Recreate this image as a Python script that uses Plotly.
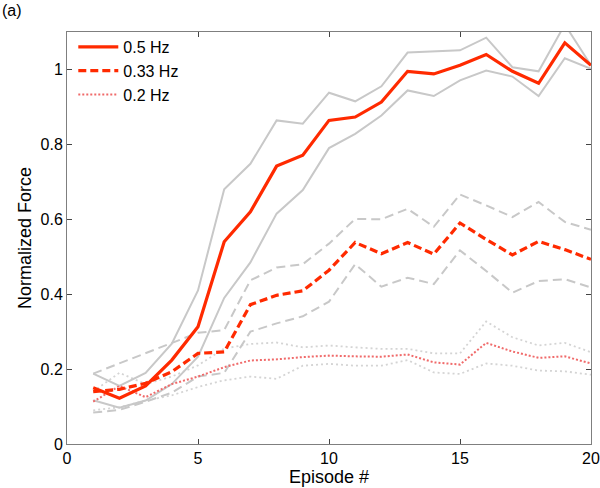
import plotly.graph_objects as go

episodes = list(range(1, 21))

# 0.5 Hz
hz05_mean = [0.150, 0.122, 0.155, 0.224, 0.313, 0.540, 0.620, 0.742, 0.771, 0.864,
             0.873, 0.913, 0.995, 0.988, 1.011, 1.040, 0.995, 0.963, 1.071, 1.011]
hz05_upper = [0.188, 0.155, 0.190, 0.268, 0.410, 0.680, 0.748, 0.864, 0.855, 0.938,
              0.915, 0.955, 1.045, 1.049, 1.051, 1.085, 1.006, 0.995, 1.120, 1.011]
hz05_lower = [0.117, 0.097, 0.116, 0.160, 0.233, 0.390, 0.485, 0.615, 0.678, 0.790,
              0.828, 0.877, 0.944, 0.929, 0.971, 0.997, 0.981, 0.929, 1.030, 1.002]

# 0.33 Hz
hz033_mean = [0.140, 0.146, 0.162, 0.193, 0.242, 0.246, 0.372, 0.397, 0.409, 0.464,
              0.538, 0.508, 0.538, 0.507, 0.590, 0.546, 0.505, 0.541, 0.519, 0.493]
hz033_upper = [0.188, 0.215, 0.243, 0.268, 0.297, 0.304, 0.437, 0.471, 0.480, 0.535,
               0.601, 0.600, 0.628, 0.580, 0.666, 0.637, 0.606, 0.646, 0.593, 0.572]
hz033_lower = [0.084, 0.091, 0.113, 0.137, 0.180, 0.190, 0.300, 0.322, 0.341, 0.380,
               0.480, 0.420, 0.444, 0.427, 0.517, 0.462, 0.404, 0.435, 0.440, 0.418]

# 0.2 Hz
hz02_mean = [0.113, 0.155, 0.125, 0.160, 0.180, 0.205, 0.223, 0.226, 0.232, 0.236,
             0.234, 0.233, 0.239, 0.218, 0.212, 0.270, 0.247, 0.230, 0.234, 0.215]
hz02_upper = [0.140, 0.190, 0.160, 0.180, 0.210, 0.255, 0.267, 0.271, 0.258, 0.263,
              0.258, 0.254, 0.254, 0.242, 0.242, 0.327, 0.285, 0.263, 0.270, 0.245]
hz02_lower = [0.090, 0.098, 0.116, 0.130, 0.152, 0.170, 0.180, 0.174, 0.209, 0.214,
              0.209, 0.209, 0.224, 0.191, 0.187, 0.215, 0.209, 0.196, 0.194, 0.185]

x_ticks = [0, 5, 10, 15, 20]
y_ticks = [0, 0.2, 0.4, 0.6, 0.8, 1]
y_tick_labels = ["0", "0.2", "0.4", "0.6", "0.8", "1"]

RED = "#ff2a00"
LIGHT_RED = "#f06a6a"
GRAY = "#c8c8c8"
GRAY_DOT = "#d4d4d4"

fig = go.Figure()

# gray bounds
for ys, dash, col, w in [(hz02_upper, "2px,3px", GRAY_DOT, 1.8), (hz02_lower, "2px,3px", GRAY_DOT, 1.8),
                         (hz033_upper, "9px,5px", GRAY, 2), (hz033_lower, "9px,5px", GRAY, 2),
                         (hz05_upper, "solid", GRAY, 2), (hz05_lower, "solid", GRAY, 2)]:
    fig.add_trace(go.Scatter(x=episodes, y=ys, mode="lines", showlegend=False,
                             line=dict(color=col, width=w, dash=dash),
                             hoverinfo="skip"))

fig.add_trace(go.Scatter(x=episodes, y=hz02_mean, mode="lines", name="0.2 Hz",
                         line=dict(color=LIGHT_RED, width=2, dash="2px,2px")))
fig.add_trace(go.Scatter(x=episodes, y=hz033_mean, mode="lines", name="0.33 Hz",
                         line=dict(color=RED, width=3.2, dash="8px,4px")))
fig.add_trace(go.Scatter(x=episodes, y=hz05_mean, mode="lines", name="0.5 Hz",
                         line=dict(color=RED, width=3.2)))

font_family = "Liberation Sans, Arial, sans-serif"

fig.update_layout(
    width=600, height=488,
    margin=dict(l=67, r=9, t=32, b=44),
    paper_bgcolor="white", plot_bgcolor="white",
    font=dict(family=font_family, size=16, color="black"),
    legend=dict(x=0.012, y=1.005, xanchor="left", yanchor="top",
                bgcolor="rgba(0,0,0,0)", traceorder="reversed",
                font=dict(size=16), itemwidth=40, tracegroupgap=0),
    xaxis=dict(range=[0, 20], tickvals=x_ticks, ticks="inside", ticklen=5,
               showline=True, linecolor="#7f7f7f", linewidth=1, mirror="ticks",
               showgrid=False, zeroline=False, automargin=False,
               tickfont=dict(size=16),
               title=dict(text="Episode #", font=dict(size=18), standoff=2)),
    yaxis=dict(range=[0, 1.1], tickvals=y_ticks, ticktext=y_tick_labels,
               ticks="inside", ticklen=5,
               showline=True, linecolor="#7f7f7f", linewidth=1, mirror="ticks",
               showgrid=False, zeroline=False, automargin=False,
               tickfont=dict(size=16),
               title=dict(text="Normalized Force", font=dict(size=18), standoff=4)),
    annotations=[dict(text="(a)", x=0, y=1, xref="paper", yref="paper",
                      xshift=-67, yshift=32, xanchor="left", yanchor="top",
                      showarrow=False, font=dict(size=16))],
)

fig.write_html("out.html", config={"displayModeBar": False},
               post_script="document.body.style.margin='0';document.body.style.padding='0';")
